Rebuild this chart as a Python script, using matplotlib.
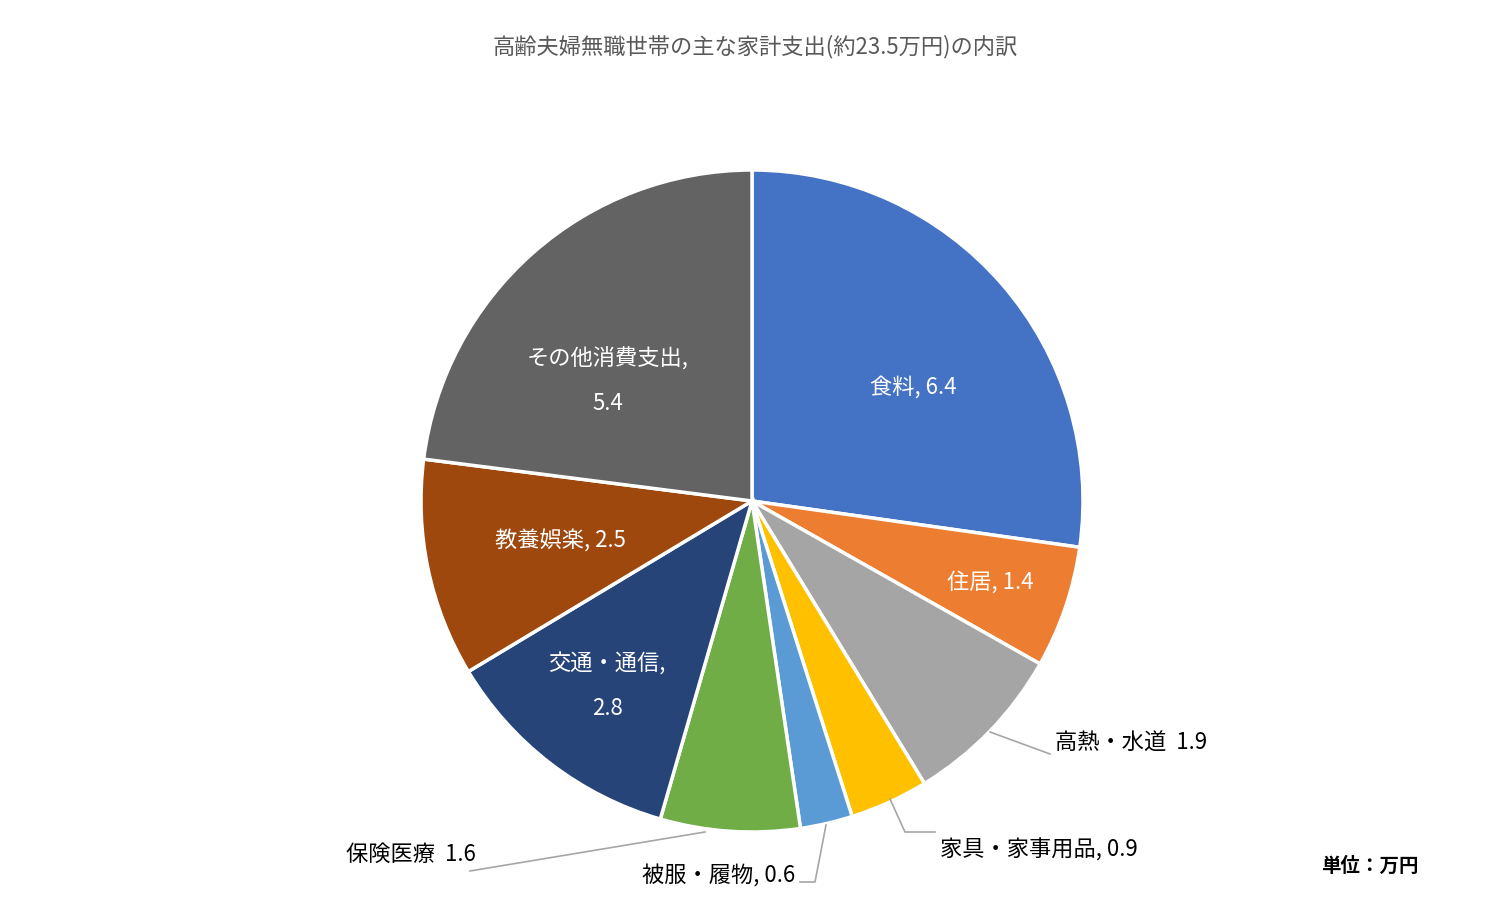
import matplotlib
matplotlib.use("Agg")
import matplotlib.pyplot as plt
import numpy as np

plt.rcParams['font.family'] = 'Noto Sans CJK JP'

categories = ["食料", "住居", "高熱・水道", "家具・家事用品", "被服・履物", "保険医療", "交通・通信", "教養娯楽", "その他消費支出"]
values = [6.4, 1.4, 1.9, 0.9, 0.6, 1.6, 2.8, 2.5, 5.4]
colors = ["#4472C4", "#ED7D31", "#A5A5A5", "#FFC000", "#5B9BD5", "#70AD47", "#264478", "#9E480E", "#636363"]
title = "高齢夫婦無職世帯の主な家計支出(約23.5万円)の内訳"

W, H = 1510, 912
fig = plt.figure(figsize=(W/100, H/100), dpi=100)
ax = fig.add_axes([0, 0, 1, 1])
ax.set_xlim(0, W); ax.set_ylim(H, 0); ax.axis('off')

cx, cy, R = 752, 502, 331
# y axis inverted: counterclock=True in data space appears clockwise on screen
wedges, _ = ax.pie(values, colors=colors, startangle=-90, counterclock=True,
                   center=(cx, cy), radius=R, frame=True,
                   wedgeprops=dict(edgecolor='white', linewidth=2.5))
ax.set_xlim(0, W); ax.set_ylim(H, 0); ax.axis('off'); ax.set_aspect('equal')

fmt = ["{c}, {v}", "{c}, {v}", "{c}  {v}", "{c}, {v}", "{c}, {v}", "{c}  {v}", "{c},\n\n{v}", "{c}, {v}", "{c},\n\n{v}"]
# (x, y, ha, color, leader points)
pos = [
    (913, 387, 'center', 'white', None),
    (990, 582, 'center', 'white', None),
    (1055, 743, 'left', 'black', [(1050, 755), (990, 733)]),
    (940, 850, 'left', 'black', [(935, 833), (905, 833), (890, 800)]),
    (795, 876, 'right', 'black', [(800, 883), (815, 883), (826, 826)]),
    (476, 854, 'right', 'black', [(470, 872), (705, 833)]),
    (607, 686, 'center', 'white', None),
    (560, 541, 'center', 'white', None),
    (608, 381, 'center', 'white', None),
]
for c, v, f, (x, y, ha, col, pts) in zip(categories, values, fmt, pos):
    ax.text(x, y, f.format(c=c, v=v), ha=ha, va='center', color=col, fontsize=16,
            linespacing=0.95)
    if pts:
        xs, ys = zip(*pts)
        ax.plot(xs, ys, color='#A6A6A6', lw=1.2)

ax.text(W/2, 47, title, ha='center', va='center', fontsize=16, color='#595959')
ax.text(1370, 866, "単位：万円", ha='center', va='center', fontsize=14, fontweight='bold', color='black')
fig.savefig("out.png", dpi=100)
